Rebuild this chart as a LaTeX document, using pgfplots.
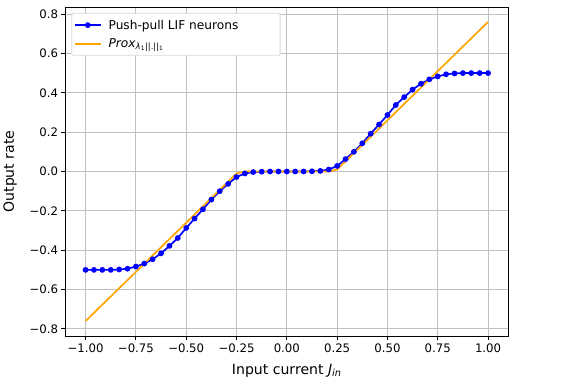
\documentclass[border=0pt]{standalone}
\usepackage{fontspec}
\setmainfont{DejaVu Sans}
\usepackage{pgfplots}
\pgfplotsset{compat=1.18}
\usepackage{pgfplotstable}

\definecolor{mplblue}{RGB}{0,0,255}
\definecolor{mplorange}{RGB}{255,165,0}
\definecolor{mplgrid}{RGB}{176,176,176}

% push-pull LIF output, sampled at x = -1 + k/24
\pgfplotstableread{
x y
-1.0000 -0.500
-0.9583 -0.500
-0.9167 -0.500
-0.8750 -0.500
-0.8333 -0.498
-0.7917 -0.494
-0.7500 -0.483
-0.7083 -0.468
-0.6667 -0.446
-0.6250 -0.416
-0.5833 -0.378
-0.5417 -0.338
-0.5000 -0.287
-0.4583 -0.239
-0.4167 -0.192
-0.3750 -0.143
-0.3333 -0.100
-0.2917 -0.063
-0.2500 -0.028
-0.2083 -0.010
-0.1667 -0.003
-0.1250 -0.001
-0.0833 0.000
-0.0417 0.000
0.0000 0.000
0.0417 0.000
0.0833 0.000
0.1250 0.001
0.1667 0.003
0.2083 0.010
0.2500 0.028
0.2917 0.063
0.3333 0.100
0.3750 0.143
0.4167 0.192
0.4583 0.239
0.5000 0.287
0.5417 0.338
0.5833 0.378
0.6250 0.416
0.6667 0.446
0.7083 0.468
0.7500 0.483
0.7917 0.494
0.8333 0.498
0.8750 0.500
0.9167 0.500
0.9583 0.500
1.0000 0.500
}\lifdata

% soft threshold
\pgfplotstableread{
x y
-1.0000 -0.760
-0.2500 -0.010
-0.2083 0.000
0.2083 0.000
0.2500 0.010
1.0000 0.760
}\proxdata

\begin{document}
\begin{tikzpicture}
\path (-64pt,-46pt) rectangle (503pt,337pt);
\begin{axis}[
  scale only axis, width=444pt, height=330pt,
  xmin=-1.1, xmax=1.1, ymin=-0.836, ymax=0.836,
  xtick={-1,-0.75,-0.5,-0.25,0,0.25,0.5,0.75,1},
  xticklabels={−1.00,−0.75,−0.50,−0.25,0.00,0.25,0.50,0.75,1.00},
  ytick={-0.8,-0.6,-0.4,-0.2,0,0.2,0.4,0.6,0.8},
  yticklabels={−0.8,−0.6,−0.4,−0.2,0.0,0.2,0.4,0.6,0.8},
  tick align=outside, xtick pos=bottom, ytick pos=left,
  major tick length=4pt,
  tick style={black, line width=0.9pt},
  axis line style={line width=0.9pt},
  xmajorgrids, ymajorgrids,
  grid style={mplgrid!80, line width=0.9pt},
  tick label style={font=\fontsize{11.75}{13}\selectfont},
  label style={font=\fontsize{14.1}{16}\selectfont},
  xlabel={Input current \textit{J}\textsubscript{\textit{in}}},
  ylabel={Output rate},
  xlabel style={yshift=-5pt},
  ylabel style={yshift=6pt},
  legend style={at={(0.0135,0.982)}, anchor=north west,
    draw=black!15, rounded corners=2pt, line width=0.8pt,
    font=\fontsize{12.2}{14}\selectfont, cells={anchor=west},
    row sep=4pt, column sep=5pt, inner xsep=2pt, inner ysep=4.5pt},
  legend image code/.code={
    \draw[#1, mark=none, line width=1.9pt] (0pt,0pt) -- (26pt,0pt);
    \draw[#1, only marks] plot coordinates {(13pt,0pt)};
  },
]
\addplot[mplblue, line width=1.7pt, mark=*, mark size=2pt] table {\lifdata};
\addlegendentry{\hbox to 168pt{Push-pull LIF neurons\hfil}}
\addplot[mplorange, line width=1.7pt] table {\proxdata};
\addlegendentry{\textit{Prox}\textsubscript{\textit{λ}\textsubscript{1}||.||\textsubscript{1}}}
\end{axis}
\end{tikzpicture}
\end{document}
